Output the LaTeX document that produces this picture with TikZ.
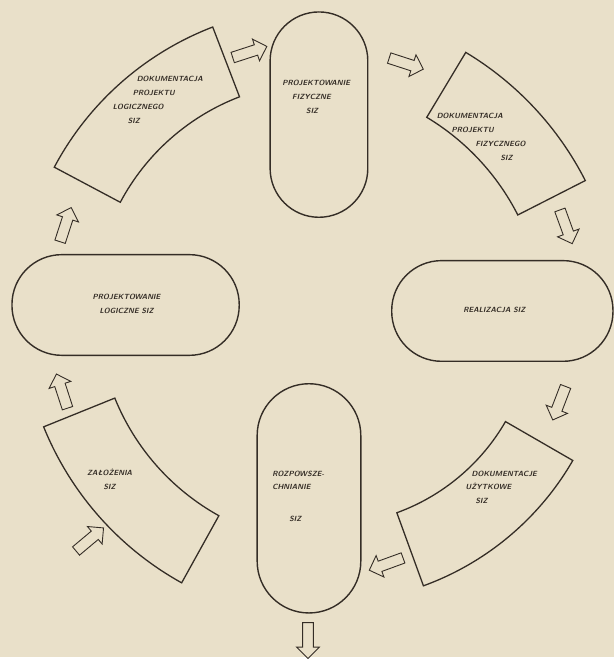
\documentclass[tikz,border=0pt]{standalone}
\usepackage{tikz}
\usetikzlibrary{shapes.arrows}
\definecolor{paper}{RGB}{233,224,201}
\definecolor{ink}{RGB}{52,45,38}
\tikzset{
  phase/.style={draw=ink, line width=1.4pt, inner sep=0pt},
  sector/.style={draw=ink, line width=1.3pt},
  flow/.style={single arrow, draw=ink, line width=0.9pt, inner sep=5pt,
    minimum height=36pt, single arrow head extend=6pt},
  lbl/.style={font=\fontsize{7.5}{14}\selectfont\sffamily\bfseries\slshape,
    align=left, text=ink, inner sep=0pt}
}

\begin{document}
\begin{tikzpicture}[x=1pt,y=1pt]
  \fill[paper] (0,0) rectangle (616,659);

  % stadium shaped phases
  \node[phase, minimum width=98pt, minimum height=206pt, rounded corners=49pt] (pf) at (320,544) {};
  \node[phase, minimum width=104pt, minimum height=230pt, rounded corners=52pt] (roz) at (310,159) {};
  \node[phase, minimum width=228pt, minimum height=101pt, rounded corners=50pt] (pl) at (126,353) {};
  \node[phase, minimum width=222pt, minimum height=101pt, rounded corners=50pt] (real) at (504,347) {};

  % curved documents
  \foreach \cx/\cy/\a/\b/\ri/\ro in {322/349/111/152/228/303, 303/333/27/59/243/319,
                                     327/340/-70/-30/208/286, 334/348/202/241/236/313} {
    \draw[sector] ([shift={(\a:\ro)}]\cx,\cy) arc[start angle=\a, end angle=\b, radius=\ro]
      -- ([shift={(\b:\ri)}]\cx,\cy) arc[start angle=\b, end angle=\a, radius=\ri] -- cycle;
  }

  % texts
  \node[lbl, anchor=west] (tdpl) at (113,559) {\hspace*{24pt}DOKUMENTACJA\\\hspace*{20pt}PROJEKTU\\LOGICZNEGO\\\hspace*{15pt}SIZ};
  \node[lbl, anchor=west] (tpf) at (283,562) {PROJEKTOWANIE\\\hspace*{10pt}FIZYCZNE\\\hspace*{24pt}SIZ};
  \node[lbl, anchor=west] (tdpf) at (438,522) {DOKUMENTACJA\\\hspace*{15pt}PROJEKTU\\\hspace*{39pt}FIZYCZNEGO\\\hspace*{64pt}SIZ};
  \node[lbl, align=center] (tpl) at (127,354) {PROJEKTOWANIE\\LOGICZNE SIZ};
  \node[lbl] (treal) at (496,348) {REALIZACJA SIZ};
  \node[lbl, align=center] (tzal) at (110,178) {ZAŁOŻENIA\\SIZ};
  \node[lbl, anchor=west] (troz) at (273,161) {ROZPOWSZE-\\CHNIANIE\\[18pt]\hspace*{17pt}SIZ};
  \node[lbl, anchor=west] (tdu) at (467,170) {\hspace*{6pt}DOKUMENTACJE\\UŻYTKOWE\\\hspace*{10pt}SIZ};

  % hollow flow arrows
  \foreach \x/\y/\r [count=\i] in {88/116/40, 63/264/108, 65/431/72, 248/606/18, 405/596/-18,
                                   567/434/-70, 562/257/-111, 390/94/200, 309/19/-90} {
    \node[flow, rotate=\r] (a\i) at (\x,\y) {};
  }
\end{tikzpicture}
\end{document}
